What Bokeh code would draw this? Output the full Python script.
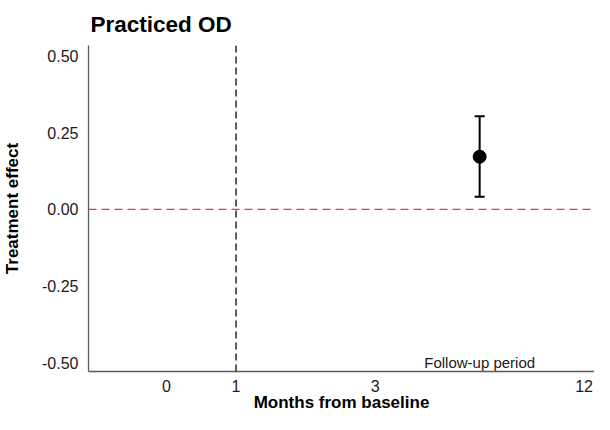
from bokeh.plotting import figure
from bokeh.models import (Range1d, FixedTicker, NumeralTickFormatter, Span,
                          ColumnDataSource, Whisker, TeeHead)
from bokeh.embed import file_html
from bokeh.resources import INLINE
from bokeh.core.properties import value

# ---- data ----
month_labels = ["0", "1", "3", "12"]
month_positions = [0, 1, 3, 6]          # axis positions of the month ticks
y_ticks = [-0.5, -0.25, 0.0, 0.25, 0.5]

period_x = [4.5]                        # follow-up period (between 3 and 12 months)
effect = [0.172]
ci_lower = [0.041]
ci_upper = [0.304]

baseline_month = 1
null_effect = 0.0
annot_text = "Follow-up period"
annot_y = -0.5

FONT = "Liberation Sans"

p = figure(width=594, height=414, output_backend="svg", toolbar_location=None,
           x_range=Range1d(-1.12, 6.15), y_range=Range1d(-0.529, 0.535),
           min_border_left=0, min_border_right=0, min_border_top=0,
           min_border_bottom=0)

p.title.text = "Practiced OD"
p.title.text_font = FONT
p.title.text_font_size = "22.5px"
p.title.text_font_style = "bold"
p.title.align = "left"
p.title.offset = 2
p.title.standoff = 18
p.title.text_color = "#000000"

p.xgrid.visible = False
p.ygrid.visible = False
p.outline_line_color = None
p.background_fill_color = "white"
p.border_fill_color = "white"

for ax in (p.xaxis[0], p.yaxis[0]):
    ax.axis_line_color = "#5a5a5a"
    ax.axis_line_width = 1.3
    ax.major_tick_line_color = None
    ax.minor_tick_line_color = None
    ax.major_tick_out = 0
    ax.major_tick_in = 0
    ax.minor_tick_out = 0
    ax.minor_tick_in = 0
    ax.major_label_text_font = FONT
    ax.major_label_text_font_size = "16px"
    ax.major_label_text_color = "#1a1a1a"
    ax.axis_label_text_font = FONT
    ax.axis_label_text_font_size = "17px"
    ax.axis_label_text_font_style = "bold"
    ax.axis_label_text_color = "#000000"

p.xaxis.ticker = FixedTicker(ticks=month_positions)
p.xaxis.major_label_overrides = {pos: lab for pos, lab in zip(month_positions, month_labels)}
p.xaxis.axis_label = "Months from baseline"
p.xaxis.major_label_standoff = 8
p.xaxis.axis_label_standoff = -2
p.xaxis.axis_label_text_line_height = 0.8
p.xaxis.axis_label_text_baseline = "top"

p.yaxis.ticker = FixedTicker(ticks=y_ticks)
p.yaxis.formatter = NumeralTickFormatter(format="0.00")
p.yaxis.axis_label = "Treatment effect"
p.yaxis.major_label_standoff = 10
p.yaxis.axis_label_standoff = 17

# reference lines
p.add_layout(Span(location=null_effect, dimension="width", line_color="#d93a55",
                  line_dash="8 5", line_width=1.2))
p.add_layout(Span(location=baseline_month, dimension="height", line_color="#333333",
                  line_dash="7 4", line_width=1.6))

src = ColumnDataSource(dict(x=period_x, y=effect, lower=ci_lower, upper=ci_upper))
p.add_layout(Whisker(base="x", lower="lower", upper="upper", source=src,
                     line_color="black", line_width=2,
                     upper_head=TeeHead(size=10, line_width=2, line_color="black"),
                     lower_head=TeeHead(size=10, line_width=2, line_color="black")))
p.scatter("x", "y", source=src, size=13, color="black")

p.text(x=period_x, y=[annot_y], text=[annot_text], text_align="center",
       text_baseline="middle", text_font=value(FONT), text_font_size="15px",
       text_color="#1a1a1a")

open("out.html", "w").write(file_html(p, INLINE))
